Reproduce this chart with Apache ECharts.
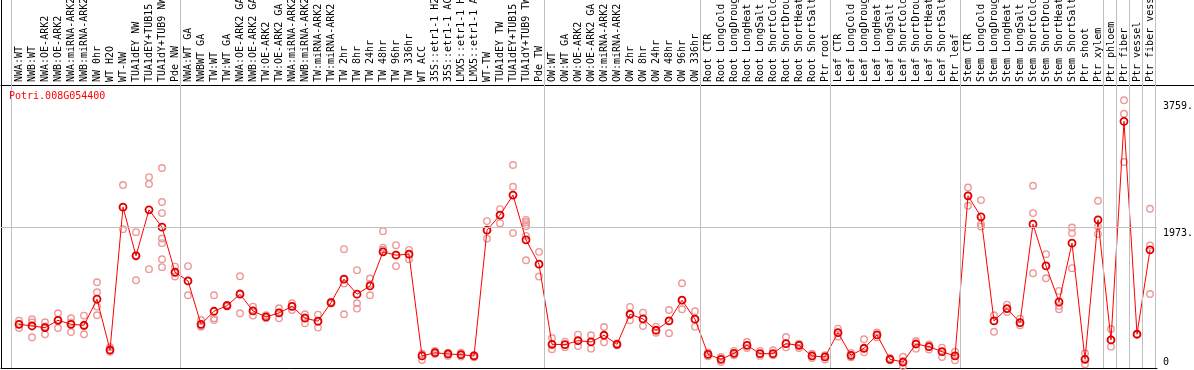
<!DOCTYPE html>
<html><head><meta charset="utf-8">
<script src="https://cdn.jsdelivr.net/npm/echarts@6/dist/echarts.min.js"></script>
<style>html,body{margin:0;padding:0;background:#fff}#c{width:1194px;height:370px}</style>
</head><body><div id="c"></div>
<script>
const geneId = 'Potri.008G054400';

const categories = [
  'NWA:WT','NWB:WT','NWA:OE-ARK2','NWB:OE-ARK2','NWA:miRNA-ARK2','NWB:miRNA-ARK2','NW 0hr','WT H2O','WT-NW',
  'TUA1dEY NW','TUA1dEY+TUB15 NW','TUA1dY+TUB9 NW','Pde NW',
  'NWA:WT GA','NWBWT GA','TW:WT','TW:WT GA','NWA:OE-ARK2 GA','NWB:OE-ARK2 GA','TW:OE-ARK2','TW:OE-ARK2 GA',
  'NWA:miRNA-ARK2','NWB:miRNA-ARK2','TW:miRNA-ARK2','TW:miRNA-ARK2','TW 2hr','TW 8hr','TW 24hr','TW 48hr','TW 96hr','TW 336hr',
  'WT ACC','35S::etr1-1 H2O','35S::etr1-1 ACC','LMX5::etr1-1 H2O','LMX5::etr1-1 ACC','WT-TW','TUA1dEY TW','TUA1dEY+TUB15 TW','TUA1dY+TUB9 TW','Pde TW',
  'OW:WT','OW:WT GA','OW:OE-ARK2','OW:OE-ARK2 GA','OW:miRNA-ARK2','OW:miRNA-ARK2','OW 2hr','OW 8hr','OW 24hr','OW 48hr','OW 96hr','OW 336hr',
  'Root CTR','Root LongCold','Root LongDrought','Root LongHeat','Root LongSalt','Root ShortCold','Root ShortDrought','Root ShortHeat','Root ShortSalt','Ptr root',
  'Leaf CTR','Leaf LongCold','Leaf LongDrought','Leaf LongHeat','Leaf LongSalt','Leaf ShortCold','Leaf ShortDrought','Leaf ShortHeat','Leaf ShortSalt','Ptr leaf',
  'Stem CTR','Stem LongCold','Stem LongDrought','Stem LongHeat','Stem LongSalt','Stem ShortCold','Stem ShortDrought','Stem ShortHeat','Stem ShortSalt',
  'Ptr shoot','Ptr xylem','Ptr phloem','Ptr fiber','Ptr vessel','Ptr fiber vessel'
];

// group sizes (a grey separator line is drawn before each group and after the last)
const groupSizes = [13, 28, 12, 10, 10, 11, 1, 1, 1, 1];

const means = [
  614, 590, 567, 670, 614, 600, 966, 253, 2259, 1575, 2221, 1978, 1345,
  1223, 614, 797, 876, 1036, 801, 717, 773, 865, 699, 657, 918, 1247, 1036, 1153, 1631, 1585, 1599,
  169, 215, 197, 187, 169, 1936, 2147, 2428, 1800, 1458,
  333, 328, 384, 366, 460, 333, 755, 689, 530, 661, 952, 685,
  192, 122, 206, 319, 201, 201, 342, 319, 169, 155,
  496, 178, 277, 464, 122, 84, 337, 300, 229, 169,
  2418, 2123, 661, 834, 637, 2020, 1434, 928, 1753,
  122, 2081, 394, 3463, 474, 1659
];

const replicates = [
  [665, 614, 562], [684, 642, 432], [642, 585, 474], [769, 680, 562], [699, 640, 506], [736, 590, 474],
  [1205, 1064, 862, 741], [291, 240, 229], [2569, 2259, 1950], [1908, 1585, 1233], [2681, 2583, 1388],
  [2808, 2330, 2175, 1818, 1753, 1528, 1416], [1424, 1330, 1284],
  [1430, 1220, 1022], [675, 590, 580], [1022, 700, 675], [890, 876, 862], [1289, 1050, 769], [862, 800, 736],
  [740, 717, 700], [839, 780, 699], [910, 870, 815], [755, 710, 628], [750, 650, 567], [930, 918, 905],
  [1669, 1250, 1185, 755], [1374, 910, 834], [1256, 1180, 1022], [1922, 1690, 1660], [1725, 1590, 1430], [1659, 1600, 1528],
  [112, 190, 200], [239, 210, 195], [215, 190, 170], [215, 180, 160], [180, 165, 150],
  [2063, 1936, 1818], [2231, 2147, 2034], [2850, 2545, 1894], [2080, 2050, 2020, 1990, 1856, 1514], [1631, 1458, 1284],
  [422, 330, 263], [370, 328, 290], [468, 384, 309], [460, 366, 272], [576, 460, 361], [345, 333, 320],
  [858, 755, 670], [778, 689, 590], [581, 530, 496], [815, 661, 488], [1191, 952, 825], [797, 685, 581],
  [220, 192, 165], [155, 122, 84], [240, 206, 180], [366, 319, 280], [240, 201, 170], [250, 201, 180],
  [436, 342, 290], [340, 319, 280], [200, 169, 140], [180, 155, 120],
  [553, 496, 440], [210, 178, 150], [403, 277, 220], [500, 464, 430], [140, 122, 110], [159, 84, 28],
  [380, 337, 272], [330, 300, 260], [286, 229, 155], [229, 169, 108],
  [2535, 2418, 2278], [2358, 2020, 1987], [741, 661, 510], [890, 834, 787], [694, 637, 600],
  [2559, 2175, 1331], [1599, 1434, 1261], [1083, 872, 825], [1973, 1894, 1402],
  [207, 122, 52], [2348, 1987, 1880], [548, 394, 300], [3759, 3571, 2892], [480, 470], [2236, 1720, 1040]
];

const yLabelValues = [0, 1973, 3759];
const gridLineValue = 1973;

// ---------- layout ----------
const X0 = 19, STEP = 13;          // pixel x of first category, category spacing
const toIdx = px => (px - X0) / STEP;
const PLOT_LEFT = 1, PLOT_RIGHT = 1157, HEADER_H = 85, PLOT_BOTTOM = 368, W = 1194, H = 370;
const Y_MAX = 3974;
const SEP_OFFSET = 7.5 / STEP;

const separators = [];
let acc = 0;
separators.push(acc - SEP_OFFSET);
groupSizes.forEach(s => { acc += s; separators.push(acc - SEP_OFFSET); });

const repData = [];
replicates.forEach((r, i) => r.forEach(v => repData.push([i, v])));
const meanData = means.map((v, i) => [i, v]);

const FONT = 'DejaVu Sans Mono';
const SEP_COLOR = '#c0c0c0';

const chart = echarts.init(document.getElementById('c'), null, {renderer: 'canvas'});
chart.setOption({
  animation: false,
  backgroundColor: '#fff',
  title: {
    text: geneId, left: 9, top: 91, padding: 0,
    textStyle: {color: '#ff0000', fontFamily: FONT, fontSize: 10, fontWeight: 'normal'}
  },
  grid: [
    {left: PLOT_LEFT, width: W - PLOT_LEFT, top: 0, height: HEADER_H, containLabel: false, outerBoundsMode: 'none'},
    {left: PLOT_LEFT, width: PLOT_RIGHT - PLOT_LEFT, top: HEADER_H, height: PLOT_BOTTOM - HEADER_H, containLabel: false, outerBoundsMode: 'none'}
  ],
  xAxis: [
    {
      gridIndex: 0, type: 'value', min: toIdx(PLOT_LEFT), max: toIdx(W), position: 'bottom',
      axisLine: {show: true, onZero: false, lineStyle: {color: '#000', width: 1}},
      axisTick: {show: false}, splitLine: {show: false},
      axisLabel: {
        show: true, inside: true, rotate: 90, margin: 3,
        customValues: categories.map((_, i) => i),
        formatter: v => categories[Math.round(v)],
        fontFamily: FONT, fontSize: 10, color: '#000'
      }
    },
    {
      gridIndex: 1, type: 'value', min: toIdx(PLOT_LEFT), max: toIdx(PLOT_RIGHT), position: 'bottom',
      axisLine: {show: true, onZero: false, lineStyle: {color: '#000', width: 1}},
      axisTick: {show: false}, splitLine: {show: false}, axisLabel: {show: false}
    }
  ],
  yAxis: [
    {
      gridIndex: 0, type: 'value', min: 0, max: 1, position: 'left',
      axisLine: {show: true, onZero: false, lineStyle: {color: '#000', width: 1}},
      axisTick: {show: false}, splitLine: {show: false}, axisLabel: {show: false}
    },
    {
      gridIndex: 1, type: 'value', min: 0, max: Y_MAX, position: 'left',
      axisLine: {show: true, onZero: false, lineStyle: {color: '#000', width: 1}},
      axisTick: {show: false}, splitLine: {show: false}, axisLabel: {show: false}
    },
    {
      gridIndex: 1, type: 'value', min: 0, max: Y_MAX, position: 'right',
      axisLine: {show: false, onZero: false}, axisTick: {show: false}, splitLine: {show: false},
      axisLabel: {
        show: true, margin: 6, customValues: yLabelValues,
        formatter: v => v === 0 ? '0\n' : '\n' + v + '.',
        fontFamily: FONT, fontSize: 10, lineHeight: 12, color: '#000', align: 'left'
      }
    }
  ],
  series: [
    {
      type: 'line', xAxisIndex: 0, yAxisIndex: 0, data: [], silent: true, z: 1,
      markLine: {
        silent: true, symbol: 'none', label: {show: false}, animation: false,
        lineStyle: {color: SEP_COLOR, width: 1, type: 'solid'},
        emphasis: {disabled: true},
        data: separators.map(s => ({xAxis: s}))
      }
    },
    {
      type: 'line', xAxisIndex: 1, yAxisIndex: 1, data: [], silent: true, z: 1,
      markLine: {
        silent: true, symbol: 'none', label: {show: false}, animation: false,
        lineStyle: {color: SEP_COLOR, width: 1, type: 'solid'},
        emphasis: {disabled: true},
        data: separators.map(s => ({xAxis: s})).concat([{yAxis: gridLineValue}])
      }
    },
    {
      type: 'scatter', xAxisIndex: 1, yAxisIndex: 1, data: repData, silent: true, z: 2,
      symbol: 'circle', symbolSize: 6.5,
      itemStyle: {color: 'rgba(0,0,0,0)', borderColor: '#ee9898', borderWidth: 1.4, opacity: 1}
    },
    {
      type: 'line', xAxisIndex: 1, yAxisIndex: 1, data: meanData, silent: true, z: 3,
      symbol: 'circle', symbolSize: 7, showSymbol: true,
      lineStyle: {color: '#ff0000', width: 1},
      itemStyle: {color: 'rgba(0,0,0,0)', borderColor: '#e00000', borderWidth: 1.8}
    }
  ]
});
</script>
</body></html>
